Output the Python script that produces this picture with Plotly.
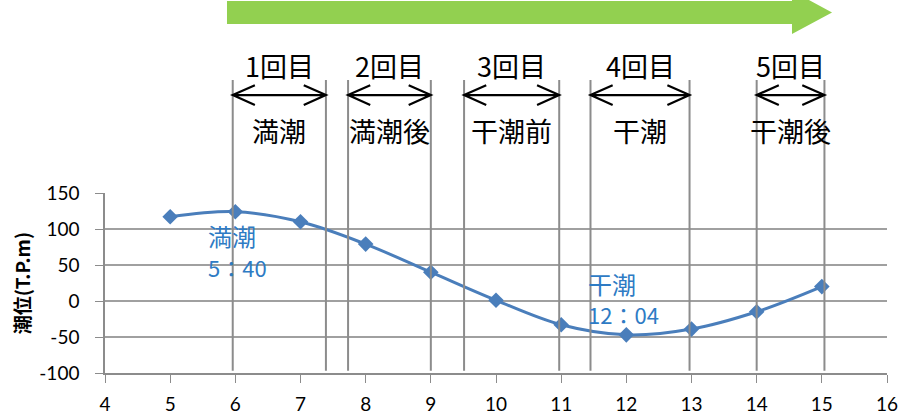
import plotly.graph_objects as go

# Tide level readings (T.P. m scale) by hour
hours = [5, 6, 7, 8, 9, 10, 11, 12, 13, 14, 15]
tide = [117, 124, 110, 79, 40, 1, -33, -47, -39, -15, 20]

# Axis ticks
x_ticks = [4, 5, 6, 7, 8, 9, 10, 11, 12, 13, 14, 15, 16]
y_ticks = [-100, -50, 0, 50, 100, 150]
y_tick_labels = ["-100", "-50", "0", "50", "100", "150"]

# Observation windows: start/end hour, round label and tide phase
win_start = [5.96, 7.73, 9.51, 11.45, 14.0]
win_end = [7.39, 9.0, 10.97, 12.97, 15.04]
win_round = ["1回目", "2回目", "3回目", "4回目", "5回目"]
win_phase = ["満潮", "満潮後", "干潮前", "干潮", "干潮後"]

# Callouts for high / low water (name and time on separate lines)
callout_name = ["満潮", "干潮"]
callout_time = ["5：40", "12：04"]
callout_x = [5.57, 11.40]
callout_name_y = [91, 25]
callout_time_y = [47, -18]

CJK = "Noto Sans CJK JP"
BLUE = "#4A7EBB"
TXT_BLUE = "#2E7BC4"

fig = go.Figure()
fig.add_trace(go.Scatter(
    x=hours, y=tide, mode="lines+markers",
    line=dict(color=BLUE, width=3, shape="spline", smoothing=1.0),
    marker=dict(symbol="diamond", size=12, color=BLUE),
    hoverinfo="x+y", showlegend=False,
))

shapes = []
annotations = []

# Vertical boundaries of each window, reaching up above the plot
line_top = 1.628
for a, b in zip(win_start, win_end):
    for xv in (a, b):
        shapes.append(dict(type="line", xref="x", yref="paper",
                           x0=xv, x1=xv, y0=0.012, y1=line_top,
                           line=dict(color="#8C8C8C", width=2), layer="above"))

# Double-headed arrows spanning each window
ay = 1.544
hx = 0.34
hy = 0.055
for a, b in zip(win_start, win_end):
    path = (f"M {a + hx},{ay + hy} L {a},{ay} L {a + hx},{ay - hy} "
            f"M {a},{ay} L {b},{ay} "
            f"M {b - hx},{ay + hy} L {b},{ay} L {b - hx},{ay - hy}")
    shapes.append(dict(type="path", xref="x", yref="paper", path=path,
                       line=dict(color="black", width=2.2), layer="above"))

# Round labels above arrows and phase labels below
for a, b, r, p in zip(win_start, win_end, win_round, win_phase):
    c = (a + b) / 2
    annotations.append(dict(x=c, y=1.711, xref="x", yref="paper", text=r,
                            showarrow=False, xanchor="center", yanchor="middle",
                            font=dict(family=CJK, size=27, color="black")))
    annotations.append(dict(x=c, y=1.35, xref="x", yref="paper", text=p,
                            showarrow=False, xanchor="center", yanchor="middle",
                            font=dict(family=CJK, size=27, color="black")))

# Big green time-direction arrow across the top
x0, xb, xt = 0.156, 0.8785, 0.9297
yt, yb, yc = 2.067, 1.939, 2.003
hh = 0.12
green = (f"M {x0},{yt} L {xb},{yt} L {xb},{yc + hh} L {xt},{yc} "
         f"L {xb},{yc - hh} L {xb},{yb} L {x0},{yb} Z")
shapes.append(dict(type="path", xref="paper", yref="paper", path=green,
                   fillcolor="#92D050", line=dict(width=0), layer="above"))

# High / low water callouts
for name, tm, cx, ny, ty in zip(callout_name, callout_time, callout_x,
                                callout_name_y, callout_time_y):
    annotations.append(dict(x=cx, y=ny, xref="x", yref="y", text=name,
                            showarrow=False, xanchor="left", yanchor="middle",
                            borderpad=0,
                            font=dict(family=CJK, size=24, color=TXT_BLUE)))
    annotations.append(dict(x=cx, y=ty, xref="x", yref="y", text=tm,
                            showarrow=False, xanchor="left", yanchor="middle",
                            borderpad=0,
                            font=dict(family=CJK, size=22, color=TXT_BLUE)))

# Y-axis title
annotations.append(dict(x=-0.107, y=0.5, xref="paper", yref="paper",
                        text="<b>潮位(T.P.m)</b>", textangle=-90,
                        showarrow=False, xanchor="center", yanchor="middle",
                        font=dict(family=CJK, size=19, color="black")))

fig.update_layout(
    width=905, height=418,
    margin=dict(l=105, r=18, t=193, b=45, autoexpand=False),
    paper_bgcolor="white", plot_bgcolor="white",
    shapes=shapes, annotations=annotations,
    xaxis=dict(range=[4, 16], tickvals=x_ticks, showgrid=False,
               showline=True, linecolor="#8C8C8C", linewidth=1.5,
               ticks="outside", ticklen=8, tickcolor="#8C8C8C",
               ticklabelstandoff=5, automargin=False,
               tickfont=dict(family="Lato", size=19, color="black"),
               zeroline=False),
    yaxis=dict(range=[-100, 150], tickvals=y_ticks, ticktext=y_tick_labels,
               showgrid=True, gridcolor="#A0A0A0", gridwidth=1.5,
               showline=True, linecolor="#8C8C8C", linewidth=1.5,
               ticks="outside", ticklen=8, tickcolor="#8C8C8C",
               ticklabelstandoff=12, automargin=False,
               tickfont=dict(family="Lato", size=19, color="black"),
               zeroline=False),
)

fig.write_html("out.html")
